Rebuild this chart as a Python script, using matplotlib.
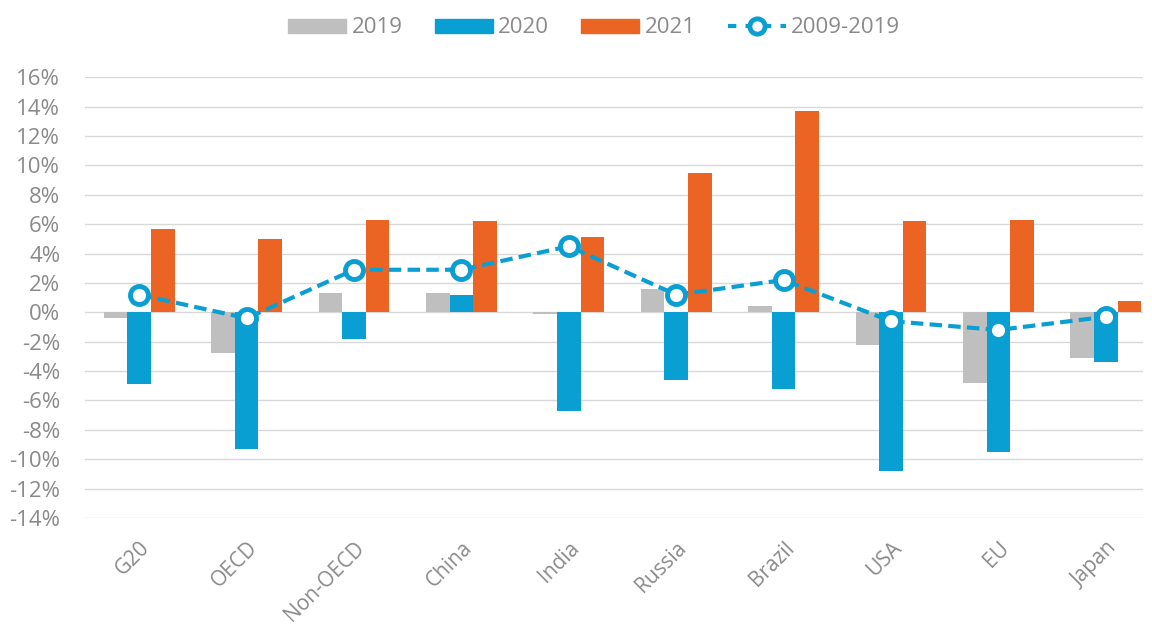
import numpy as np
import matplotlib
matplotlib.use("Agg")
import matplotlib.pyplot as plt
from matplotlib.lines import Line2D
from matplotlib.patches import Patch

plt.rcParams['font.family'] = ['Open Sans', 'DejaVu Sans']

regions = ['G20', 'OECD', 'Non-OECD', 'China', 'India', 'Russia', 'Brazil', 'USA', 'EU', 'Japan']
y2019 = [-0.4, -2.8, 1.3, 1.3, -0.1, 1.6, 0.4, -2.2, -4.8, -3.1]
y2020 = [-4.9, -9.3, -1.8, 1.2, -6.7, -4.6, -5.2, -10.8, -9.5, -3.4]
y2021 = [5.7, 5.0, 6.3, 6.2, 5.1, 9.5, 13.7, 6.2, 6.3, 0.8]
avg_0919 = [1.2, -0.4, 2.9, 2.9, 4.5, 1.2, 2.2, -0.6, -1.2, -0.3]
yticks = list(range(-14, 17, 2))

c_gray = '#bfbfbf'
c_blue = '#0a9fd2'
c_orange = '#ec6424'
c_text = '#8a8a8a'

fig = plt.figure(figsize=(11.52, 6.34), dpi=100)
ax = fig.add_axes([0.074, 0.183, 0.918, 0.695])

x = np.arange(len(regions))
w = 0.22
ax.bar(x - w, y2019, w, color=c_gray, zorder=2)
ax.bar(x, y2020, w, color=c_blue, zorder=2)
ax.bar(x + w, y2021, w, color=c_orange, zorder=2)
ax.plot(x, avg_0919, color=c_blue, lw=3, ls=(0, (3, 1.5)), marker='o',
        ms=13, mfc='white', mec=c_blue, mew=3.5, zorder=3)

# the original chart is cut off on the right, just past Japan's 2021 bar
ax.set_xlim(-0.503, 9.345)
ax.set_ylim(-14, 16)
ax.set_yticks(yticks)
ax.set_yticklabels([f'{v}%' for v in yticks])
ax.grid(axis='y', color='#d9d9d9', lw=1, zorder=0)
for s in ax.spines.values():
    s.set_visible(False)
ax.tick_params(length=0, labelsize=16, colors=c_text)
ax.tick_params(axis='y', pad=18)
ax.set_xticks(x)
ax.set_xticklabels(regions, rotation=45, ha='right', rotation_mode='anchor')
ax.tick_params(axis='x', pad=14, labelsize=15)

handles = [Patch(color=c_gray), Patch(color=c_blue), Patch(color=c_orange),
           Line2D([], [], color=c_blue, lw=3, ls=(0, (2.0, 2.2)), marker='o', ms=11,
                  mfc='white', mec=c_blue, mew=3.5)]
leg = fig.legend(handles, ['2019', '2020', '2021', '2009-2019'], loc='center',
                 bbox_to_anchor=(0.516, 0.956), ncol=4, frameon=False, fontsize=16,
                 handlelength=2.6, handleheight=0.6, handletextpad=0.25, columnspacing=1.45)
for t in leg.get_texts():
    t.set_color(c_text)

fig.savefig('out.png', dpi=100)
